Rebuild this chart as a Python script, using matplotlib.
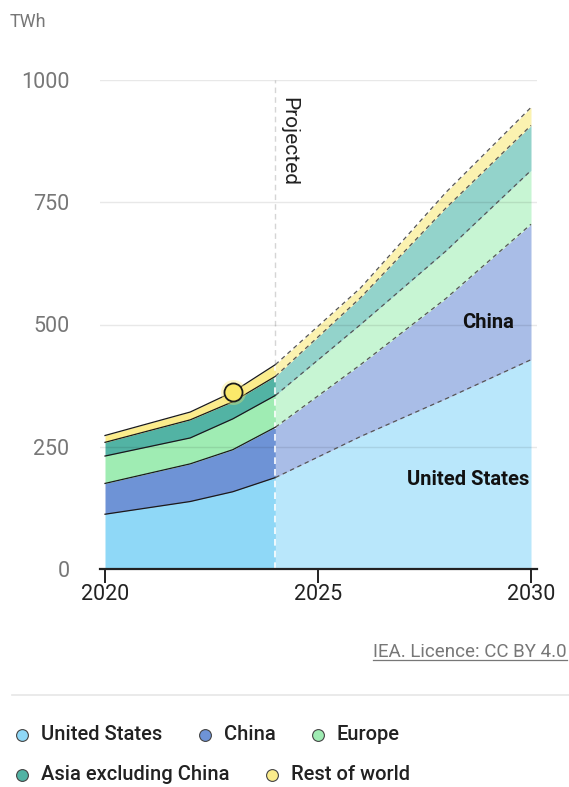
import matplotlib
matplotlib.use("Agg")
import matplotlib.pyplot as plt
from matplotlib.lines import Line2D
import numpy as np

plt.rcParams["font.family"] = ["Roboto", "DejaVu Sans"]

# data centre electricity consumption by region, TWh
years = [2020, 2022, 2023, 2024, 2026, 2028, 2030]
united_states = [112, 138, 158, 187, 271, 348, 428]
china = [63, 77, 86, 103, 147, 205, 277]
europe = [56, 53, 63, 65, 82, 97, 110]
asia_ex_china = [28, 37, 35, 39, 55, 88, 92]
rest_of_world = [14, 16, 20, 24, 20, 32, 37]
last_actual = 2024
marker_year = 2023

names = ["United States", "China", "Europe", "Asia excluding China", "Rest of world"]
colours = ["#8fd8f7", "#6e93d6", "#9fecb3", "#52b3a4", "#fbec8c"]
proj_colours = ["#b9e7fb", "#a9bde7", "#c7f5d3", "#93d3cb", "#fbf2b0"]

x = np.array(years, dtype=float)
series = np.array([united_states, china, europe, asia_ex_china, rest_of_world], dtype=float)
tops = np.cumsum(series, axis=0)
bottoms = np.vstack([np.zeros(len(years)), tops[:-1]])
hist = x <= last_actual
proj = x >= last_actual

fig = plt.figure(figsize=(5.69, 7.87), dpi=100)
W, H = 569, 787
ax = fig.add_axes([100 / W, 1 - 569 / H, 437 / W, 489 / H])
ax.set_xlim(2020 - 5 / 42.6, 2030 + 6 / 42.6)
ax.set_ylim(0, 1000)

for i in range(len(names)):
    ax.fill_between(x[hist], bottoms[i][hist], tops[i][hist], color=colours[i], lw=0, zorder=2)
    ax.fill_between(x[proj], bottoms[i][proj], tops[i][proj], color=proj_colours[i], lw=0, zorder=2)
    ax.plot(x[hist], tops[i][hist], color="#1a1a1a", lw=0.9, zorder=4)
    ax.plot(x[proj], tops[i][proj], color="#555555", lw=0.9, ls=(0, (3.5, 3)), zorder=4)

# grid
for v in [250, 500, 750, 1000]:
    ax.axhline(v, color="#000000", alpha=0.09, lw=1, zorder=3)

# projected divider
ax.axvline(last_actual, color="#d5d5d5", lw=1, ls=(0, (4, 3)), zorder=1)
ax.plot([last_actual, last_actual], [0, tops[-1][years.index(last_actual)]],
        color="white", lw=1.2, ls=(0, (4, 3)), zorder=3.5)
ax.text(last_actual + 0.1, 965, "Projected", rotation=270, ha="left", va="top",
        fontsize=15, color="#222222", zorder=6)

# highlighted point
my = tops[-1][years.index(marker_year)]
ax.plot([marker_year], [my], "o", ms=18, color="#fbe96a", alpha=0.35, mec="none", zorder=5)
ax.plot([marker_year], [my], "o", ms=13, color="#fbe96a", mec="#1a1a1a", mew=1.3, zorder=6)

# inline labels
ax.text(2029.6, 505, "China", ha="right", va="center", fontsize=14.5, fontweight="bold",
        color="#111111", zorder=6)
ax.text(2029.97, 183, "United States", ha="right", va="center", fontsize=14.5, fontweight="bold",
        color="#111111", zorder=6)

# axes styling
for s in ["top", "right", "left"]:
    ax.spines[s].set_visible(False)
ax.spines["bottom"].set_color("#222222")
ax.spines["bottom"].set_linewidth(1.6)
ax.spines["bottom"].set_zorder(7)
ax.set_yticks([0, 250, 500, 750, 1000])
ax.tick_params(axis="y", length=0, pad=22, labelsize=15.5, labelcolor="#777777")
ax.set_xticks([2020, 2025, 2030])
ax.tick_params(axis="x", length=10, width=1.4, color="#222222", direction="out",
               labelsize=15.5, labelcolor="#222222", pad=1)

fig.text(10 / W, 1 - 22 / H, "TWh", ha="left", va="center", fontsize=13, color="#777777")

# source
src = fig.text(567 / W, 1 - 652 / H, "IEA. Licence: CC BY 4.0", ha="right", va="center",
               fontsize=13.5, color="#777777")
fig.canvas.draw()
bb = src.get_window_extent().transformed(fig.transFigure.inverted())
fig.add_artist(Line2D([bb.x0, bb.x1], [bb.y0 + 0.001, bb.y0 + 0.001], transform=fig.transFigure,
                      color="#777777", lw=0.9))

# separator
fig.add_artist(Line2D([12 / W, 1.0], [1 - 695 / H] * 2, transform=fig.transFigure, color="#e6e6e6", lw=1.2))

# legend
legend_pos = [(22, 735), (205, 735), (318, 735), (22, 775), (272, 775)]
for (px, py), name, c in zip(legend_pos, names, colours):
    fig.add_artist(Line2D([px / W], [1 - py / H], transform=fig.transFigure, marker="o", ms=8.5,
                          color=c, mec="#444444", mew=0.8, ls="none"))
    fig.text((px + 19) / W, 1 - py / H, name, ha="left", va="center", fontsize=14.5,
             fontweight="medium", color="#222222")

fig.savefig("out.png", dpi=100)
